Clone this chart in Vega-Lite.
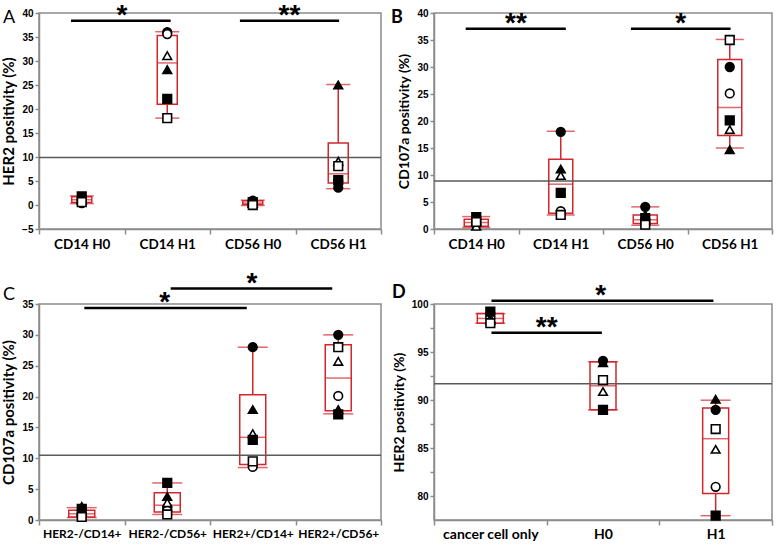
{
 "$schema": "https://vega.github.io/schema/vega-lite/v6.json",
 "padding": {"top": 0, "left": 0, "right": 0, "bottom": 0},
 "autosize": {"type": "pad"},
 "columns": 2,
 "spacing": {"row": 16, "column": 7},
 "config": {
  "font": "Lato",
  "view": {"stroke": "#8c8c8c", "strokeWidth": 1.5},
  "axis": {"grid": false, "domainColor": "#8c8c8c", "domainWidth": 1.5, "tickColor": "#8c8c8c", "tickWidth": 1.5, "labelColor": "black", "titleColor": "black", "labelFontWeight": "bold", "titleFontWeight": "bold", "titleFont": "Lato", "labelOverlap": false},
  "axisX": {"labelFont": "Lato", "labelFontWeight": "bold", "labelFontSize": 13.5, "tickSize": 5, "labelPadding": 3, "tickBand": "extent", "labelAngle": 0, "labelOverlap": false},
  "axisY": {"labelFont": "Liberation Sans", "labelFontWeight": "bold", "labelFontSize": 10, "tickSize": 4, "labelPadding": 2, "titleFontSize": 15, "titleFontWeight": "bold", "titlePadding": 5, "labelOverlap": false}
 },
 "datasets": {
  "boxA": [
   {"group": "CD14 H0", "min": 0.3, "q1": 0.5, "median": 1.1, "q3": 1.7, "max": 1.9},
   {"group": "CD14 H1", "min": 18.1, "q1": 21.0, "median": 29.6, "q3": 35.3, "max": 36.1},
   {"group": "CD56 H0", "min": -0.1, "q1": 0.1, "median": 0.4, "q3": 0.9, "max": 1.0},
   {"group": "CD56 H1", "min": 3.4, "q1": 4.6, "median": 6.5, "q3": 12.9, "max": 25.1}
  ],
  "ptsA": [
   {"group": "CD14 H0", "donor": "d1", "value": 0.4}, {"group": "CD14 H0", "donor": "d2", "value": 0.9}, {"group": "CD14 H0", "donor": "d3", "value": 1.3}, {"group": "CD14 H0", "donor": "d4", "value": 1.0}, {"group": "CD14 H0", "donor": "d5", "value": 1.8}, {"group": "CD14 H0", "donor": "d6", "value": 0.6},
   {"group": "CD14 H1", "donor": "d1", "value": 36.0}, {"group": "CD14 H1", "donor": "d2", "value": 35.6}, {"group": "CD14 H1", "donor": "d3", "value": 28.2}, {"group": "CD14 H1", "donor": "d4", "value": 31.1}, {"group": "CD14 H1", "donor": "d5", "value": 22.1}, {"group": "CD14 H1", "donor": "d6", "value": 18.1},
   {"group": "CD56 H0", "donor": "d1", "value": 0.9}, {"group": "CD56 H0", "donor": "d2", "value": 0.2}, {"group": "CD56 H0", "donor": "d3", "value": 0.5}, {"group": "CD56 H0", "donor": "d4", "value": 0.3}, {"group": "CD56 H0", "donor": "d5", "value": 0.6}, {"group": "CD56 H0", "donor": "d6", "value": 0.0},
   {"group": "CD56 H1", "donor": "d1", "value": 3.6}, {"group": "CD56 H1", "donor": "d2", "value": 5.0}, {"group": "CD56 H1", "donor": "d3", "value": 25.0}, {"group": "CD56 H1", "donor": "d4", "value": 9.1}, {"group": "CD56 H1", "donor": "d5", "value": 5.2}, {"group": "CD56 H1", "donor": "d6", "value": 8.1}
  ],
  "sigA": [
   {"x1": 0.874, "x2": 2.04, "xs": 1.47, "y": 38.4, "star": "*"},
   {"x1": 2.85, "x2": 4.01, "xs": 3.43, "y": 38.4, "star": "**"}
  ],
  "boxB": [
   {"group": "CD14 H0", "min": 0.3, "q1": 0.5, "median": 1.2, "q3": 1.8, "max": 2.3},
   {"group": "CD14 H1", "min": 2.6, "q1": 2.9, "median": 8.3, "q3": 12.9, "max": 18.1},
   {"group": "CD56 H0", "min": 0.7, "q1": 1.0, "median": 1.7, "q3": 2.6, "max": 4.1},
   {"group": "CD56 H1", "min": 15.0, "q1": 17.3, "median": 22.5, "q3": 31.4, "max": 35.1}
  ],
  "ptsB": [
   {"group": "CD14 H0", "donor": "d1", "value": 1.0}, {"group": "CD14 H0", "donor": "d2", "value": 0.8}, {"group": "CD14 H0", "donor": "d3", "value": 1.5}, {"group": "CD14 H0", "donor": "d4", "value": 0.5}, {"group": "CD14 H0", "donor": "d5", "value": 2.2}, {"group": "CD14 H0", "donor": "d6", "value": 1.3},
   {"group": "CD14 H1", "donor": "d1", "value": 18.0}, {"group": "CD14 H1", "donor": "d2", "value": 3.3}, {"group": "CD14 H1", "donor": "d3", "value": 11.1}, {"group": "CD14 H1", "donor": "d4", "value": 9.9}, {"group": "CD14 H1", "donor": "d5", "value": 6.7}, {"group": "CD14 H1", "donor": "d6", "value": 2.6},
   {"group": "CD56 H0", "donor": "d1", "value": 4.1}, {"group": "CD56 H0", "donor": "d2", "value": 1.0}, {"group": "CD56 H0", "donor": "d3", "value": 2.6}, {"group": "CD56 H0", "donor": "d4", "value": 1.5}, {"group": "CD56 H0", "donor": "d5", "value": 2.0}, {"group": "CD56 H0", "donor": "d6", "value": 0.8},
   {"group": "CD56 H1", "donor": "d1", "value": 30.0}, {"group": "CD56 H1", "donor": "d2", "value": 25.1}, {"group": "CD56 H1", "donor": "d3", "value": 14.7}, {"group": "CD56 H1", "donor": "d4", "value": 18.4}, {"group": "CD56 H1", "donor": "d5", "value": 20.1}, {"group": "CD56 H1", "donor": "d6", "value": 35.0}
  ],
  "sigB": [
   {"x1": 0.875, "x2": 2.06, "xs": 1.47, "y": 37.1, "star": "**"},
   {"x1": 2.83, "x2": 4.01, "xs": 3.42, "y": 37.1, "star": "*"}
  ],
  "boxC": [
   {"group": "HER2-/CD14+", "min": 0.4, "q1": 0.5, "median": 1.0, "q3": 1.6, "max": 2.0},
   {"group": "HER2-/CD56+", "min": 0.9, "q1": 1.3, "median": 2.4, "q3": 4.4, "max": 6.0},
   {"group": "HER2+/CD14+", "min": 8.5, "q1": 9.0, "median": 13.4, "q3": 20.3, "max": 28.0},
   {"group": "HER2+/CD56+", "min": 17.2, "q1": 17.7, "median": 23.0, "q3": 28.4, "max": 30.0}
  ],
  "ptsC": [
   {"group": "HER2-/CD14+", "donor": "d1", "value": 0.8}, {"group": "HER2-/CD14+", "donor": "d2", "value": 0.6}, {"group": "HER2-/CD14+", "donor": "d3", "value": 2.2}, {"group": "HER2-/CD14+", "donor": "d4", "value": 1.4}, {"group": "HER2-/CD14+", "donor": "d5", "value": 1.8}, {"group": "HER2-/CD14+", "donor": "d6", "value": 0.5},
   {"group": "HER2-/CD56+", "donor": "d1", "value": 2.0}, {"group": "HER2-/CD56+", "donor": "d2", "value": 1.5}, {"group": "HER2-/CD56+", "donor": "d3", "value": 3.8}, {"group": "HER2-/CD56+", "donor": "d4", "value": 2.8}, {"group": "HER2-/CD56+", "donor": "d5", "value": 6.0}, {"group": "HER2-/CD56+", "donor": "d6", "value": 0.9},
   {"group": "HER2+/CD14+", "donor": "d1", "value": 28.0}, {"group": "HER2+/CD14+", "donor": "d2", "value": 8.6}, {"group": "HER2+/CD14+", "donor": "d3", "value": 17.9}, {"group": "HER2+/CD14+", "donor": "d4", "value": 14.0}, {"group": "HER2+/CD14+", "donor": "d5", "value": 13.0}, {"group": "HER2+/CD14+", "donor": "d6", "value": 9.5},
   {"group": "HER2+/CD56+", "donor": "d1", "value": 30.0}, {"group": "HER2+/CD56+", "donor": "d2", "value": 20.1}, {"group": "HER2+/CD56+", "donor": "d3", "value": 17.9}, {"group": "HER2+/CD56+", "donor": "d4", "value": 25.7}, {"group": "HER2+/CD56+", "donor": "d5", "value": 17.1}, {"group": "HER2+/CD56+", "donor": "d6", "value": 28.0}
  ],
  "sigC": [
   {"x1": 1.03, "x2": 2.93, "xs": 1.97, "y": 34.35, "star": "*"},
   {"x1": 2.04, "x2": 3.93, "xs": 2.99, "y": 37.5, "star": "*"}
  ],
  "boxD": [
   {"group": "cancer cell only", "min": 98.0, "q1": 98.0, "median": 98.5, "q3": 99.0, "max": 99.0},
   {"group": "H0", "min": 89.0, "q1": 89.0, "median": 91.5, "q3": 94.0, "max": 94.0},
   {"group": "H1", "min": 78.0, "q1": 80.3, "median": 86.0, "q3": 89.2, "max": 90.0}
  ],
  "ptsD": [
   {"group": "cancer cell only", "donor": "d1", "value": 99.0}, {"group": "cancer cell only", "donor": "d2", "value": 98.6}, {"group": "cancer cell only", "donor": "d3", "value": 98.5}, {"group": "cancer cell only", "donor": "d4", "value": 98.3}, {"group": "cancer cell only", "donor": "d5", "value": 99.2}, {"group": "cancer cell only", "donor": "d6", "value": 98.0},
   {"group": "H0", "donor": "d1", "value": 94.1}, {"group": "H0", "donor": "d2", "value": 89.0}, {"group": "H0", "donor": "d3", "value": 93.9}, {"group": "H0", "donor": "d4", "value": 90.9}, {"group": "H0", "donor": "d5", "value": 89.0}, {"group": "H0", "donor": "d6", "value": 92.1},
   {"group": "H1", "donor": "d1", "value": 89.0}, {"group": "H1", "donor": "d2", "value": 81.0}, {"group": "H1", "donor": "d3", "value": 90.1}, {"group": "H1", "donor": "d4", "value": 84.9}, {"group": "H1", "donor": "d5", "value": 78.0}, {"group": "H1", "donor": "d6", "value": 87.0}
  ],
  "sigD": [
   {"x1": 1.01, "x2": 2.98, "xs": 1.98, "y": 100.35, "star": "*"},
   {"x1": 1.01, "x2": 1.99, "xs": 1.5, "y": 97.0, "star": "**"}
  ]
 },
 "concat": [
  {
   "width": 342, "height": 216,
   "resolve": {"scale": {"x": "independent"}},
   "layer": [
    {"data": {"name": "boxA"}, "layer": [
     {"mark": {"type": "rule", "color": "#d3262d", "strokeWidth": 1.5}, "encoding": {"x": {"field": "group", "type": "nominal", "scale": {"type": "band", "domain": ["CD14 H0", "CD14 H1", "CD56 H0", "CD56 H1"], "paddingInner": 0, "paddingOuter": 0}, "title": null, "axis": {"labelOverlap": false}}, "y": {"field": "min", "type": "quantitative", "scale": {"domain": [-5, 40], "nice": false, "zero": false}, "title": "HER2 positivity (%)", "axis": {"values": [-5, 0, 5, 10, 15, 20, 25, 30, 35, 40], "tickCount": 50, "format": "d", "labelOverlap": false}}, "y2": {"field": "q1"}}},
     {"mark": {"type": "rule", "color": "#d3262d", "strokeWidth": 1.5}, "encoding": {"x": {"field": "group", "type": "nominal", "scale": {"type": "band", "domain": ["CD14 H0", "CD14 H1", "CD56 H0", "CD56 H1"], "paddingInner": 0, "paddingOuter": 0}, "title": null}, "y": {"field": "q3", "type": "quantitative", "scale": {"domain": [-5, 40], "nice": false, "zero": false}, "title": "HER2 positivity (%)"}, "y2": {"field": "max"}}},
     {"mark": {"type": "bar", "width": 20, "filled": false, "color": "#d3262d", "strokeWidth": 1.5}, "encoding": {"x": {"field": "group", "type": "nominal", "scale": {"type": "band", "domain": ["CD14 H0", "CD14 H1", "CD56 H0", "CD56 H1"], "paddingInner": 0, "paddingOuter": 0}, "title": null}, "y": {"field": "q1", "type": "quantitative", "scale": {"domain": [-5, 40], "nice": false, "zero": false}, "title": "HER2 positivity (%)"}, "y2": {"field": "q3"}}},
     {"mark": {"type": "tick", "color": "#d3262d", "size": 24, "thickness": 1.5}, "encoding": {"x": {"field": "group", "type": "nominal", "scale": {"type": "band", "domain": ["CD14 H0", "CD14 H1", "CD56 H0", "CD56 H1"], "paddingInner": 0, "paddingOuter": 0}, "title": null}, "y": {"field": "min", "type": "quantitative", "scale": {"domain": [-5, 40], "nice": false, "zero": false}, "title": "HER2 positivity (%)"}}},
     {"mark": {"type": "tick", "color": "#d3262d", "size": 24, "thickness": 1.5}, "encoding": {"x": {"field": "group", "type": "nominal", "scale": {"type": "band", "domain": ["CD14 H0", "CD14 H1", "CD56 H0", "CD56 H1"], "paddingInner": 0, "paddingOuter": 0}, "title": null}, "y": {"field": "max", "type": "quantitative", "scale": {"domain": [-5, 40], "nice": false, "zero": false}, "title": "HER2 positivity (%)"}}},
     {"mark": {"type": "tick", "color": "#d3262d", "size": 20, "thickness": 1.5}, "encoding": {"x": {"field": "group", "type": "nominal", "scale": {"type": "band", "domain": ["CD14 H0", "CD14 H1", "CD56 H0", "CD56 H1"], "paddingInner": 0, "paddingOuter": 0}, "title": null}, "y": {"field": "median", "type": "quantitative", "scale": {"domain": [-5, 40], "nice": false, "zero": false}, "title": "HER2 positivity (%)"}}},
     {"data": {"values": [{"ref": 9.9}]}, "mark": {"type": "rule", "color": "#5a5a5a", "strokeWidth": 1.5}, "encoding": {"y": {"field": "ref", "type": "quantitative", "scale": {"domain": [-5, 40], "nice": false, "zero": false}, "title": "HER2 positivity (%)"}}},
     {"data": {"name": "ptsA"}, "mark": {"type": "point", "filled": true, "size": 75, "stroke": "black", "strokeWidth": 1.6, "opacity": 1}, "encoding": {"x": {"field": "group", "type": "nominal", "scale": {"type": "band", "domain": ["CD14 H0", "CD14 H1", "CD56 H0", "CD56 H1"], "paddingInner": 0, "paddingOuter": 0}, "title": null}, "y": {"field": "value", "type": "quantitative", "scale": {"domain": [-5, 40], "nice": false, "zero": false}, "title": "HER2 positivity (%)"}, "fill": {"field": "donor", "type": "nominal", "scale": {"domain": ["d1", "d2", "d3", "d4", "d5", "d6"], "range": ["black", "white", "black", "white", "black", "white"]}, "legend": null}, "shape": {"field": "donor", "type": "nominal", "scale": {"domain": ["d1", "d2", "d3", "d4", "d5", "d6"], "range": ["circle", "circle", "triangle-up", "triangle-up", "square", "square"]}, "legend": null}}}
    ]},
    {"data": {"name": "sigA"}, "layer": [
     {"mark": {"type": "rule", "color": "black", "strokeWidth": 2.5}, "encoding": {"x": {"field": "x1", "type": "quantitative", "scale": {"domain": [0.5, 4.5], "nice": false, "zero": false}, "axis": null}, "x2": {"field": "x2"}, "y": {"field": "y", "type": "quantitative", "scale": {"domain": [-5, 40], "nice": false, "zero": false}, "title": "HER2 positivity (%)"}}},
     {"mark": {"type": "text", "font": "Liberation Sans", "fontWeight": "bold", "fontSize": 28, "baseline": "alphabetic", "dy": 3}, "encoding": {"x": {"field": "xs", "type": "quantitative", "axis": null}, "y": {"field": "y", "type": "quantitative", "scale": {"domain": [-5, 40], "nice": false, "zero": false}, "title": "HER2 positivity (%)"}, "text": {"field": "star"}}},
     {"data": {"values": [{"letter": "A"}]}, "mark": {"type": "text", "font": "Lato", "fontSize": 18, "align": "left", "baseline": "alphabetic"}, "encoding": {"x": {"datum": 0.08, "type": "quantitative", "axis": null}, "y": {"datum": 37.9, "type": "quantitative", "scale": {"domain": [-5, 40], "nice": false, "zero": false}, "title": "HER2 positivity (%)"}, "text": {"field": "letter"}}}
    ]}
   ]
  },
  {
   "width": 338, "height": 216,
   "resolve": {"scale": {"x": "independent"}},
   "layer": [
    {"data": {"name": "boxB"}, "layer": [
     {"mark": {"type": "rule", "color": "#d3262d", "strokeWidth": 1.5}, "encoding": {"x": {"field": "group", "type": "nominal", "scale": {"type": "band", "domain": ["CD14 H0", "CD14 H1", "CD56 H0", "CD56 H1"], "paddingInner": 0, "paddingOuter": 0}, "title": null, "axis": {"labelOverlap": false}}, "y": {"field": "min", "type": "quantitative", "scale": {"domain": [0, 40], "nice": false, "zero": false}, "title": "CD107a  positivity (%)", "axis": {"values": [0, 5, 10, 15, 20, 25, 30, 35, 40], "tickCount": 50, "format": "d", "titleFontSize": 14, "labelOverlap": false}}, "y2": {"field": "q1"}}},
     {"mark": {"type": "rule", "color": "#d3262d", "strokeWidth": 1.5}, "encoding": {"x": {"field": "group", "type": "nominal", "scale": {"type": "band", "domain": ["CD14 H0", "CD14 H1", "CD56 H0", "CD56 H1"], "paddingInner": 0, "paddingOuter": 0}, "title": null}, "y": {"field": "q3", "type": "quantitative", "scale": {"domain": [0, 40], "nice": false, "zero": false}, "title": "CD107a  positivity (%)"}, "y2": {"field": "max"}}},
     {"mark": {"type": "bar", "width": 24, "filled": false, "color": "#d3262d", "strokeWidth": 1.5}, "encoding": {"x": {"field": "group", "type": "nominal", "scale": {"type": "band", "domain": ["CD14 H0", "CD14 H1", "CD56 H0", "CD56 H1"], "paddingInner": 0, "paddingOuter": 0}, "title": null}, "y": {"field": "q1", "type": "quantitative", "scale": {"domain": [0, 40], "nice": false, "zero": false}, "title": "CD107a  positivity (%)"}, "y2": {"field": "q3"}}},
     {"mark": {"type": "tick", "color": "#d3262d", "size": 28, "thickness": 1.5}, "encoding": {"x": {"field": "group", "type": "nominal", "scale": {"type": "band", "domain": ["CD14 H0", "CD14 H1", "CD56 H0", "CD56 H1"], "paddingInner": 0, "paddingOuter": 0}, "title": null}, "y": {"field": "min", "type": "quantitative", "scale": {"domain": [0, 40], "nice": false, "zero": false}, "title": "CD107a  positivity (%)"}}},
     {"mark": {"type": "tick", "color": "#d3262d", "size": 28, "thickness": 1.5}, "encoding": {"x": {"field": "group", "type": "nominal", "scale": {"type": "band", "domain": ["CD14 H0", "CD14 H1", "CD56 H0", "CD56 H1"], "paddingInner": 0, "paddingOuter": 0}, "title": null}, "y": {"field": "max", "type": "quantitative", "scale": {"domain": [0, 40], "nice": false, "zero": false}, "title": "CD107a  positivity (%)"}}},
     {"mark": {"type": "tick", "color": "#d3262d", "size": 24, "thickness": 1.5}, "encoding": {"x": {"field": "group", "type": "nominal", "scale": {"type": "band", "domain": ["CD14 H0", "CD14 H1", "CD56 H0", "CD56 H1"], "paddingInner": 0, "paddingOuter": 0}, "title": null}, "y": {"field": "median", "type": "quantitative", "scale": {"domain": [0, 40], "nice": false, "zero": false}, "title": "CD107a  positivity (%)"}}},
     {"data": {"values": [{"ref": 8.87}]}, "mark": {"type": "rule", "color": "#5a5a5a", "strokeWidth": 1.5}, "encoding": {"y": {"field": "ref", "type": "quantitative", "scale": {"domain": [0, 40], "nice": false, "zero": false}, "title": "CD107a  positivity (%)"}}},
     {"data": {"name": "ptsB"}, "mark": {"type": "point", "filled": true, "size": 75, "stroke": "black", "strokeWidth": 1.6, "opacity": 1}, "encoding": {"x": {"field": "group", "type": "nominal", "scale": {"type": "band", "domain": ["CD14 H0", "CD14 H1", "CD56 H0", "CD56 H1"], "paddingInner": 0, "paddingOuter": 0}, "title": null}, "y": {"field": "value", "type": "quantitative", "scale": {"domain": [0, 40], "nice": false, "zero": false}, "title": "CD107a  positivity (%)"}, "fill": {"field": "donor", "type": "nominal", "scale": {"domain": ["d1", "d2", "d3", "d4", "d5", "d6"], "range": ["black", "white", "black", "white", "black", "white"]}, "legend": null}, "shape": {"field": "donor", "type": "nominal", "scale": {"domain": ["d1", "d2", "d3", "d4", "d5", "d6"], "range": ["circle", "circle", "triangle-up", "triangle-up", "square", "square"]}, "legend": null}}}
    ]},
    {"data": {"name": "sigB"}, "layer": [
     {"mark": {"type": "rule", "color": "black", "strokeWidth": 2.5}, "encoding": {"x": {"field": "x1", "type": "quantitative", "scale": {"domain": [0.5, 4.5], "nice": false, "zero": false}, "axis": null}, "x2": {"field": "x2"}, "y": {"field": "y", "type": "quantitative", "scale": {"domain": [0, 40], "nice": false, "zero": false}, "title": "CD107a  positivity (%)"}}},
     {"mark": {"type": "text", "font": "Liberation Sans", "fontWeight": "bold", "fontSize": 28, "baseline": "alphabetic", "dy": 3}, "encoding": {"x": {"field": "xs", "type": "quantitative", "axis": null}, "y": {"field": "y", "type": "quantitative", "scale": {"domain": [0, 40], "nice": false, "zero": false}, "title": "CD107a  positivity (%)"}, "text": {"field": "star"}}},
     {"data": {"values": [{"letter": "B"}]}, "mark": {"type": "text", "font": "Lato", "fontSize": 18, "fontWeight": "bold", "align": "left", "baseline": "alphabetic"}, "encoding": {"x": {"datum": -0.01, "type": "quantitative", "axis": null}, "y": {"datum": 38.2, "type": "quantitative", "scale": {"domain": [0, 40], "nice": false, "zero": false}, "title": "CD107a  positivity (%)"}, "text": {"field": "letter"}}}
    ]}
   ]
  },
  {
   "width": 342, "height": 216,
   "resolve": {"scale": {"x": "independent"}},
   "layer": [
    {"data": {"name": "boxC"}, "layer": [
     {"mark": {"type": "rule", "color": "#d3262d", "strokeWidth": 1.5}, "encoding": {"x": {"field": "group", "type": "nominal", "scale": {"type": "band", "domain": ["HER2-/CD14+", "HER2-/CD56+", "HER2+/CD14+", "HER2+/CD56+"], "paddingInner": 0, "paddingOuter": 0}, "title": null, "axis": {"labelFontSize": 12, "labelOverlap": false}}, "y": {"field": "min", "type": "quantitative", "scale": {"domain": [0, 35], "nice": false, "zero": false}, "title": "CD107a  positivity (%)", "axis": {"values": [0, 5, 10, 15, 20, 25, 30, 35], "tickCount": 50, "format": "d", "labelOverlap": false}}, "y2": {"field": "q1"}}},
     {"mark": {"type": "rule", "color": "#d3262d", "strokeWidth": 1.5}, "encoding": {"x": {"field": "group", "type": "nominal", "scale": {"type": "band", "domain": ["HER2-/CD14+", "HER2-/CD56+", "HER2+/CD14+", "HER2+/CD56+"], "paddingInner": 0, "paddingOuter": 0}, "title": null}, "y": {"field": "q3", "type": "quantitative", "scale": {"domain": [0, 35], "nice": false, "zero": false}, "title": "CD107a  positivity (%)"}, "y2": {"field": "max"}}},
     {"mark": {"type": "bar", "width": 26, "filled": false, "color": "#d3262d", "strokeWidth": 1.5}, "encoding": {"x": {"field": "group", "type": "nominal", "scale": {"type": "band", "domain": ["HER2-/CD14+", "HER2-/CD56+", "HER2+/CD14+", "HER2+/CD56+"], "paddingInner": 0, "paddingOuter": 0}, "title": null}, "y": {"field": "q1", "type": "quantitative", "scale": {"domain": [0, 35], "nice": false, "zero": false}, "title": "CD107a  positivity (%)"}, "y2": {"field": "q3"}}},
     {"mark": {"type": "tick", "color": "#d3262d", "size": 30, "thickness": 1.5}, "encoding": {"x": {"field": "group", "type": "nominal", "scale": {"type": "band", "domain": ["HER2-/CD14+", "HER2-/CD56+", "HER2+/CD14+", "HER2+/CD56+"], "paddingInner": 0, "paddingOuter": 0}, "title": null}, "y": {"field": "min", "type": "quantitative", "scale": {"domain": [0, 35], "nice": false, "zero": false}, "title": "CD107a  positivity (%)"}}},
     {"mark": {"type": "tick", "color": "#d3262d", "size": 30, "thickness": 1.5}, "encoding": {"x": {"field": "group", "type": "nominal", "scale": {"type": "band", "domain": ["HER2-/CD14+", "HER2-/CD56+", "HER2+/CD14+", "HER2+/CD56+"], "paddingInner": 0, "paddingOuter": 0}, "title": null}, "y": {"field": "max", "type": "quantitative", "scale": {"domain": [0, 35], "nice": false, "zero": false}, "title": "CD107a  positivity (%)"}}},
     {"mark": {"type": "tick", "color": "#d3262d", "size": 26, "thickness": 1.5}, "encoding": {"x": {"field": "group", "type": "nominal", "scale": {"type": "band", "domain": ["HER2-/CD14+", "HER2-/CD56+", "HER2+/CD14+", "HER2+/CD56+"], "paddingInner": 0, "paddingOuter": 0}, "title": null}, "y": {"field": "median", "type": "quantitative", "scale": {"domain": [0, 35], "nice": false, "zero": false}, "title": "CD107a  positivity (%)"}}},
     {"data": {"values": [{"ref": 10.5}]}, "mark": {"type": "rule", "color": "#5a5a5a", "strokeWidth": 1.5}, "encoding": {"y": {"field": "ref", "type": "quantitative", "scale": {"domain": [0, 35], "nice": false, "zero": false}, "title": "CD107a  positivity (%)"}}},
     {"data": {"name": "ptsC"}, "mark": {"type": "point", "filled": true, "size": 75, "stroke": "black", "strokeWidth": 1.6, "opacity": 1}, "encoding": {"x": {"field": "group", "type": "nominal", "scale": {"type": "band", "domain": ["HER2-/CD14+", "HER2-/CD56+", "HER2+/CD14+", "HER2+/CD56+"], "paddingInner": 0, "paddingOuter": 0}, "title": null}, "y": {"field": "value", "type": "quantitative", "scale": {"domain": [0, 35], "nice": false, "zero": false}, "title": "CD107a  positivity (%)"}, "fill": {"field": "donor", "type": "nominal", "scale": {"domain": ["d1", "d2", "d3", "d4", "d5", "d6"], "range": ["black", "white", "black", "white", "black", "white"]}, "legend": null}, "shape": {"field": "donor", "type": "nominal", "scale": {"domain": ["d1", "d2", "d3", "d4", "d5", "d6"], "range": ["circle", "circle", "triangle-up", "triangle-up", "square", "square"]}, "legend": null}}}
    ]},
    {"data": {"name": "sigC"}, "layer": [
     {"mark": {"type": "rule", "color": "black", "strokeWidth": 2.5}, "encoding": {"x": {"field": "x1", "type": "quantitative", "scale": {"domain": [0.5, 4.5], "nice": false, "zero": false}, "axis": null}, "x2": {"field": "x2"}, "y": {"field": "y", "type": "quantitative", "scale": {"domain": [0, 35], "nice": false, "zero": false}, "title": "CD107a  positivity (%)"}}},
     {"mark": {"type": "text", "font": "Liberation Sans", "fontWeight": "bold", "fontSize": 28, "baseline": "alphabetic", "dy": 3}, "encoding": {"x": {"field": "xs", "type": "quantitative", "axis": null}, "y": {"field": "y", "type": "quantitative", "scale": {"domain": [0, 35], "nice": false, "zero": false}, "title": "CD107a  positivity (%)"}, "text": {"field": "star"}}},
     {"data": {"values": [{"letter": "C"}]}, "mark": {"type": "text", "font": "Lato", "fontSize": 18, "align": "left", "baseline": "alphabetic"}, "encoding": {"x": {"datum": 0.08, "type": "quantitative", "axis": null}, "y": {"datum": 35.65, "type": "quantitative", "scale": {"domain": [0, 35], "nice": false, "zero": false}, "title": "CD107a  positivity (%)"}, "text": {"field": "letter"}}}
    ]}
   ]
  },
  {
   "width": 338, "height": 216,
   "resolve": {"scale": {"x": "independent"}},
   "layer": [
    {"data": {"name": "boxD"}, "layer": [
     {"mark": {"type": "rule", "color": "#d3262d", "strokeWidth": 1.5}, "encoding": {"x": {"field": "group", "type": "nominal", "scale": {"type": "band", "domain": ["cancer cell only", "H0", "H1"], "paddingInner": 0, "paddingOuter": 0}, "title": null, "axis": {"labelFontSize": 14, "labelPadding": 2, "labelOverlap": false}}, "y": {"field": "min", "type": "quantitative", "scale": {"domain": [77.55, 100], "nice": false, "zero": false}, "title": "HER2 positivity  (%)", "axis": {"values": [80, 82.5, 85, 87.5, 90, 92.5, 95, 97.5, 100], "tickCount": 50, "format": "d", "labelExpr": "datum.value % 5 == 0 ? datum.label : ''", "titleFontSize": 14, "labelOverlap": false}}, "y2": {"field": "q1"}}},
     {"mark": {"type": "rule", "color": "#d3262d", "strokeWidth": 1.5}, "encoding": {"x": {"field": "group", "type": "nominal", "scale": {"type": "band", "domain": ["cancer cell only", "H0", "H1"], "paddingInner": 0, "paddingOuter": 0}, "title": null}, "y": {"field": "q3", "type": "quantitative", "scale": {"domain": [77.55, 100], "nice": false, "zero": false}, "title": "HER2 positivity  (%)"}, "y2": {"field": "max"}}},
     {"mark": {"type": "bar", "width": 26, "filled": false, "color": "#d3262d", "strokeWidth": 1.5}, "encoding": {"x": {"field": "group", "type": "nominal", "scale": {"type": "band", "domain": ["cancer cell only", "H0", "H1"], "paddingInner": 0, "paddingOuter": 0}, "title": null}, "y": {"field": "q1", "type": "quantitative", "scale": {"domain": [77.55, 100], "nice": false, "zero": false}, "title": "HER2 positivity  (%)"}, "y2": {"field": "q3"}}},
     {"mark": {"type": "tick", "color": "#d3262d", "size": 30, "thickness": 1.5}, "encoding": {"x": {"field": "group", "type": "nominal", "scale": {"type": "band", "domain": ["cancer cell only", "H0", "H1"], "paddingInner": 0, "paddingOuter": 0}, "title": null}, "y": {"field": "min", "type": "quantitative", "scale": {"domain": [77.55, 100], "nice": false, "zero": false}, "title": "HER2 positivity  (%)"}}},
     {"mark": {"type": "tick", "color": "#d3262d", "size": 30, "thickness": 1.5}, "encoding": {"x": {"field": "group", "type": "nominal", "scale": {"type": "band", "domain": ["cancer cell only", "H0", "H1"], "paddingInner": 0, "paddingOuter": 0}, "title": null}, "y": {"field": "max", "type": "quantitative", "scale": {"domain": [77.55, 100], "nice": false, "zero": false}, "title": "HER2 positivity  (%)"}}},
     {"mark": {"type": "tick", "color": "#d3262d", "size": 26, "thickness": 1.5}, "encoding": {"x": {"field": "group", "type": "nominal", "scale": {"type": "band", "domain": ["cancer cell only", "H0", "H1"], "paddingInner": 0, "paddingOuter": 0}, "title": null}, "y": {"field": "median", "type": "quantitative", "scale": {"domain": [77.55, 100], "nice": false, "zero": false}, "title": "HER2 positivity  (%)"}}},
     {"data": {"values": [{"ref": 91.7}]}, "mark": {"type": "rule", "color": "#5a5a5a", "strokeWidth": 1.5}, "encoding": {"y": {"field": "ref", "type": "quantitative", "scale": {"domain": [77.55, 100], "nice": false, "zero": false}, "title": "HER2 positivity  (%)"}}},
     {"data": {"name": "ptsD"}, "mark": {"type": "point", "filled": true, "size": 75, "stroke": "black", "strokeWidth": 1.6, "opacity": 1}, "encoding": {"x": {"field": "group", "type": "nominal", "scale": {"type": "band", "domain": ["cancer cell only", "H0", "H1"], "paddingInner": 0, "paddingOuter": 0}, "title": null}, "y": {"field": "value", "type": "quantitative", "scale": {"domain": [77.55, 100], "nice": false, "zero": false}, "title": "HER2 positivity  (%)"}, "fill": {"field": "donor", "type": "nominal", "scale": {"domain": ["d1", "d2", "d3", "d4", "d5", "d6"], "range": ["black", "white", "black", "white", "black", "white"]}, "legend": null}, "shape": {"field": "donor", "type": "nominal", "scale": {"domain": ["d1", "d2", "d3", "d4", "d5", "d6"], "range": ["circle", "circle", "triangle-up", "triangle-up", "square", "square"]}, "legend": null}}}
    ]},
    {"data": {"name": "sigD"}, "layer": [
     {"mark": {"type": "rule", "color": "black", "strokeWidth": 2.5}, "encoding": {"x": {"field": "x1", "type": "quantitative", "scale": {"domain": [0.5, 3.5], "nice": false, "zero": false}, "axis": null}, "x2": {"field": "x2"}, "y": {"field": "y", "type": "quantitative", "scale": {"domain": [77.55, 100], "nice": false, "zero": false}, "title": "HER2 positivity  (%)"}}},
     {"mark": {"type": "text", "font": "Liberation Sans", "fontWeight": "bold", "fontSize": 28, "baseline": "alphabetic", "dy": 3}, "encoding": {"x": {"field": "xs", "type": "quantitative", "axis": null}, "y": {"field": "y", "type": "quantitative", "scale": {"domain": [77.55, 100], "nice": false, "zero": false}, "title": "HER2 positivity  (%)"}, "text": {"field": "star"}}},
     {"data": {"values": [{"letter": "D"}]}, "mark": {"type": "text", "font": "Lato", "fontSize": 18, "fontWeight": "bold", "align": "left", "baseline": "alphabetic"}, "encoding": {"x": {"datum": 0.127, "type": "quantitative", "axis": null}, "y": {"datum": 100.6, "type": "quantitative", "scale": {"domain": [77.55, 100], "nice": false, "zero": false}, "title": "HER2 positivity  (%)"}, "text": {"field": "letter"}}}
    ]}
   ]
  }
 ]
}
